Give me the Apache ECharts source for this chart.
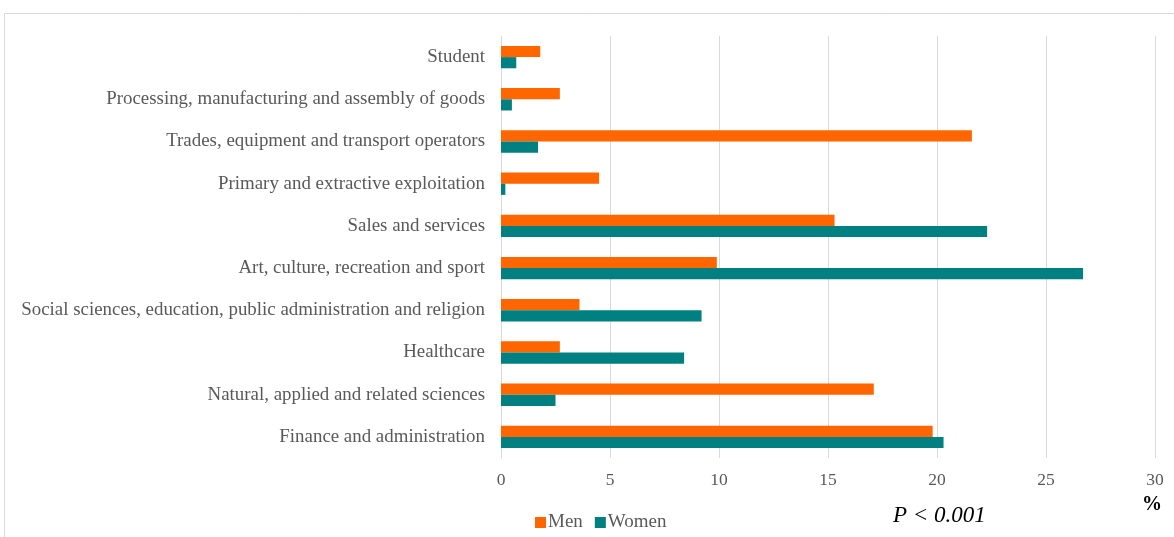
<!DOCTYPE html>
<html><head><meta charset="utf-8">
<script src="https://cdn.jsdelivr.net/npm/echarts@6/dist/echarts.min.js"></script>
<style>html,body{margin:0;padding:0;background:#fff}#c{width:1174px;height:537px}</style>
</head><body><div id="c"></div>
<script>
var categories = ["Finance and administration","Natural, applied and related sciences","Healthcare","Social sciences, education, public administration and religion","Art, culture, recreation and sport","Sales and services","Primary and extractive exploitation","Trades, equipment and transport operators","Processing, manufacturing and assembly of goods","Student"];
var men = [19.8, 17.1, 2.7, 3.6, 9.9, 15.3, 4.5, 21.6, 2.7, 1.8];
var women = [20.3, 2.5, 8.4, 9.2, 26.7, 22.3, 0.2, 1.7, 0.5, 0.7];
var seriesNames = ["Men","Women"];
var chart = echarts.init(document.getElementById('c'));
var serif = '"Liberation Serif", "Times New Roman", serif';
chart.setOption({
  animation:false,
  textStyle:{fontFamily:serif},
  grid:{left:501,right:19,top:36,bottom:79},
  legend:{data:seriesNames,left:530,top:508,itemWidth:11,itemHeight:11,itemGap:12,icon:'rect',
    textStyle:{fontFamily:serif,fontSize:19,color:'#595959',padding:[0,0,0,-3]}},
  xAxis:{type:'value',min:0,max:30,interval:5,
    axisLine:{show:false},axisTick:{show:false},
    axisLabel:{fontFamily:serif,fontSize:17.5,color:'#595959',margin:13},
    splitLine:{lineStyle:{color:'#d9d9d9',width:1}}},
  yAxis:{type:'category',data:categories,
    axisLine:{show:true,lineStyle:{color:'#d9d9d9'}},axisTick:{show:false},
    axisLabel:{fontFamily:serif,fontSize:18.9,color:'#595959',margin:16,padding:[3,0,0,0]}},
  series:[
    {name:seriesNames[0],type:'bar',data:men,itemStyle:{color:'#FF6600'},barGap:'0%',barCategoryGap:'47%'},
    {name:seriesNames[1],type:'bar',data:women,itemStyle:{color:'#008080'},barGap:'0%',barCategoryGap:'47%'}
  ],
  graphic:[
    {type:'rect',shape:{x:4.5,y:13.5,width:1200,height:600},style:{fill:'none',stroke:'#d9d9d9',lineWidth:1},silent:true},
    {type:'text',left:893,top:504,style:{text:'P < 0.001',font:'italic 23px '+serif,fill:'#000'}},
    {type:'text',left:1142,top:495,style:{text:'%',font:'bold 20px '+serif,fill:'#000'}}
  ]
});
</script></body></html>
